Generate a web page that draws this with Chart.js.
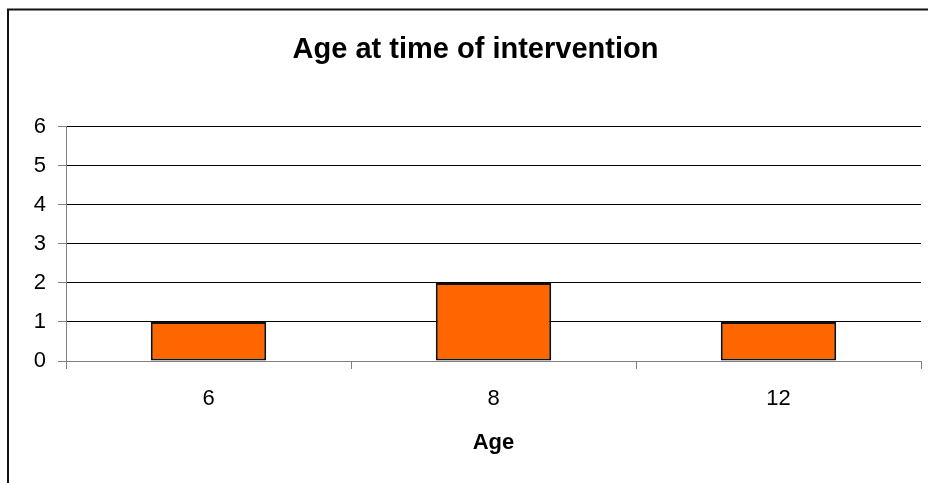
<!DOCTYPE html>
<html>
<head>
<meta charset="utf-8">
<script src="https://cdn.jsdelivr.net/npm/chart.js@4/dist/chart.umd.min.js"></script>
<style>
  html, body { margin: 0; padding: 0; background: #fff; }
  #wrap { width: 928px; height: 483px; position: relative; }
</style>
</head>
<body>
<div id="wrap"><canvas id="ageChart" width="928" height="483"></canvas></div>
<script>
// chart data
var categories = ["6", "8", "12"];
var counts = [1, 2, 1];
var yTicks = [0, 1, 2, 3, 4, 5, 6];

var FONT = "Liberation Sans, Arial, sans-serif";

// frame round the chart (left and top edges only are visible)
var framePlugin = {
    id: "frame",
    beforeDraw: function (chart) {
        var ctx = chart.ctx;
        ctx.save();
        ctx.fillStyle = "#fff";
        ctx.fillRect(0, 0, chart.width, chart.height);
        ctx.strokeStyle = "#111";
        ctx.lineWidth = 2;
        ctx.beginPath();
        ctx.moveTo(8, chart.height);
        ctx.lineTo(8, 9.5);
        ctx.lineTo(chart.width, 9.5);
        ctx.stroke();
        ctx.restore();
    }
};

var ctx = document.getElementById("ageChart").getContext("2d");
new Chart(ctx, {
    type: "bar",
    data: {
        labels: categories,
        datasets: [{
            data: counts,
            backgroundColor: "#FF6600",
            borderColor: "#111",
            borderWidth: 2,
            borderSkipped: false,
            barPercentage: 0.405,
            categoryPercentage: 1
        }]
    },
    options: {
        responsive: false,
        animation: false,
        layout: { padding: { left: 30, right: 7, top: 0, bottom: 27 } },
        plugins: {
            legend: { display: false },
            tooltip: { enabled: false },
            title: {
                display: true,
                text: "Age at time of intervention",
                color: "#000",
                font: { family: FONT, size: 29, weight: "bold" },
                padding: { top: 33, bottom: 59 }
            }
        },
        scales: {
            x: {
                grid: {
                    offset: true,
                    drawOnChartArea: false,
                    color: "#808080",
                    tickLength: 8
                },
                border: { color: "#808080", width: 1 },
                ticks: {
                    color: "#000",
                    padding: 17,
                    font: { family: FONT, size: 22 }
                },
                title: {
                    display: true,
                    text: "Age",
                    color: "#000",
                    font: { family: FONT, size: 22, weight: "bold" },
                    padding: { top: 14, bottom: 0 }
                },
                afterFit: function (scale) { scale.height = 95; }
            },
            y: {
                min: yTicks[0],
                max: yTicks[yTicks.length - 1],
                afterBuildTicks: function (scale) {
                    scale.ticks = yTicks.map(function (v) { return { value: v }; });
                },
                grid: {
                    color: "#000",
                    tickColor: "#808080",
                    tickLength: 8
                },
                border: { color: "#808080", width: 1 },
                ticks: {
                    color: "#000",
                    padding: 12,
                    font: { family: FONT, size: 22 }
                },
                afterFit: function (scale) { scale.width = 36; }
            }
        }
    },
    plugins: [framePlugin]
});
</script>
</body>
</html>
